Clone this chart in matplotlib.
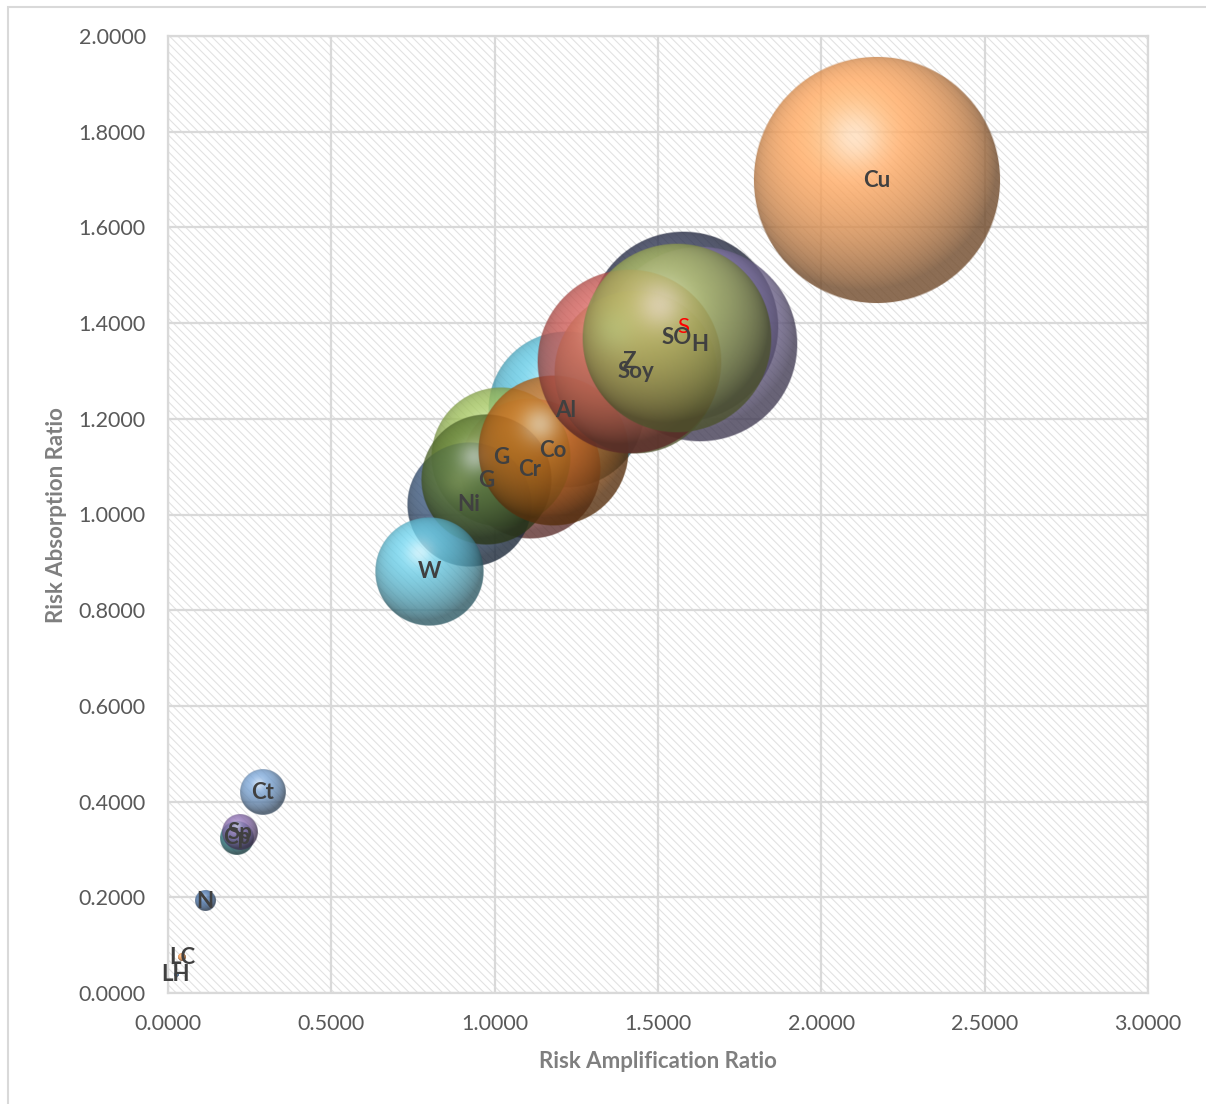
import numpy as np
import matplotlib
matplotlib.use('Agg')
import matplotlib.pyplot as plt
from matplotlib.patches import Rectangle
from matplotlib.colors import to_rgb

plt.rcParams['font.family'] = ['Lato', 'DejaVu Sans']
plt.rcParams['hatch.linewidth'] = 0.8

# commodities, in drawing order (back to front)
names = ['S', 'H', 'Al', 'Cr', 'G', 'Ni', 'G', 'W', 'Co', 'Soy', 'Z', 'SO', 'Cu',
         'Ct', 'Cp', 'Sp', 'N', 'LC', 'LH']
amplification = [1.577, 1.629, 1.218, 1.108, 1.019, 0.921, 0.973, 0.799, 1.179, 1.433,
                 1.411, 1.558, 2.170, 0.291, 0.211, 0.220, 0.113, 0.043, 0.024]
absorption = [1.392, 1.356, 1.218, 1.095, 1.120, 1.020, 1.072, 0.880, 1.133, 1.298,
              1.319, 1.369, 1.699, 0.420, 0.324, 0.336, 0.192, 0.075, 0.038]
bubble_size = [2.17, 2.30, 1.47, 1.18, 1.16, 0.93, 1.02, 0.70, 1.35, 1.60,
               2.05, 2.15, 3.69, 0.125, 0.068, 0.076, 0.024, 0.0035, 0.001]
colors = ['#2f3552', '#9486bc', '#5cc0da', '#cd6a66', '#9bbb59', '#3d5a80', '#5f7a34',
          '#66c6df', '#c0681c', '#b5bd6a', '#c95a55', '#a9b862', '#f9a35c',
          '#77a0cf', '#2e7d86', '#8a6eae', '#4a73a8', '#f79646', '#4f81bd']
label_colors = {0: '#ff0000'}

W_PX, H_PX = 1206, 1104
fig = plt.figure(figsize=(W_PX / 100, H_PX / 100), dpi=100)
ax = fig.add_axes([168 / W_PX, 1 - 993 / H_PX, 980 / W_PX, 957 / H_PX])
ax.set_xlim(0, 3)
ax.set_ylim(0, 2)

px_x = 980 / 3.0
px_y = 957 / 2.0
max_r = 124.0


def sphere_image(color, n=260):
    u = np.linspace(-1, 1, n)
    uu, vv = np.meshgrid(u, -u)
    rr = np.sqrt(uu ** 2 + vv ** 2)
    z = np.sqrt(np.clip(1 - rr ** 2, 0, 1))
    light = np.array([-0.25, 0.45, 0.85])
    light = light / np.linalg.norm(light)
    diff = np.clip(uu * light[0] + vv * light[1] + z * light[2], 0, 1)
    base = np.array(to_rgb(color))
    shade = 0.45 + 0.65 * diff
    rgb = base[None, None, :] * shade[..., None]
    spec = 0.55 * np.exp(-((uu + 0.18) ** 2 + (vv - 0.35) ** 2) / 0.06)
    rgb = rgb + (1 - rgb) * spec[..., None]
    rgb = np.clip(rgb, 0, 1)
    edge = np.clip((1 - rr) * n / 2, 0, 1)
    alpha = 0.8 * edge
    return np.dstack([rgb, alpha])


for i, (x, y, s, c) in enumerate(zip(amplification, absorption, bubble_size, colors)):
    r = max_r * np.sqrt(s / max(bubble_size))
    w = r / px_x
    h = r / px_y
    ax.imshow(sphere_image(c), extent=(x - w, x + w, y - h, y + h),
              aspect='auto', interpolation='bilinear', zorder=2 + i * 0.01)
    ax.text(x, y, names[i], ha='center', va='center', fontsize=16,
            color=label_colors.get(i, '#404040'),
            fontweight='normal' if i in label_colors else 'bold', zorder=10)

ax.set_xlim(0, 3)
ax.set_ylim(0, 2)

# hatched plot area
ax.add_patch(Rectangle((0, 0), 1, 1, transform=ax.transAxes, facecolor='none',
                       edgecolor='#e2e2e2', hatch='\\\\\\\\', lw=0, zorder=0.2))
ax.set_axisbelow(True)
ax.grid(True, color='#d9d9d9', lw=1.6)
for sp in ax.spines.values():
    sp.set_color('#d9d9d9')
    sp.set_linewidth(1.6)

ax.set_xticks(np.arange(0, 3.01, 0.5))
ax.set_yticks(np.arange(0, 2.01, 0.2))
ax.xaxis.set_major_formatter(matplotlib.ticker.FormatStrFormatter('%.4f'))
ax.yaxis.set_major_formatter(matplotlib.ticker.FormatStrFormatter('%.4f'))
ax.tick_params(axis='both', length=0, labelsize=15.5, labelcolor='#595959')
ax.tick_params(axis='x', pad=15)
ax.tick_params(axis='y', pad=16)

ax.text(0.5, -0.0711, 'Risk Amplification Ratio', transform=ax.transAxes,
        ha='center', va='center', fontsize=16, fontweight='bold', color='#7f7f7f')
ax.text(-0.1133, 0.4995, 'Risk Absorption Ratio', transform=ax.transAxes,
        rotation=90, ha='center', va='center', fontsize=16, fontweight='bold',
        color='#7f7f7f')

# outer chart frame
fig.patches.append(Rectangle((8 / W_PX, -0.1), 1.2, 1 - 7 / H_PX + 0.1,
                             transform=fig.transFigure, facecolor='none',
                             edgecolor='#d9d9d9', lw=1.5))

fig.savefig('out.png', dpi=100)
